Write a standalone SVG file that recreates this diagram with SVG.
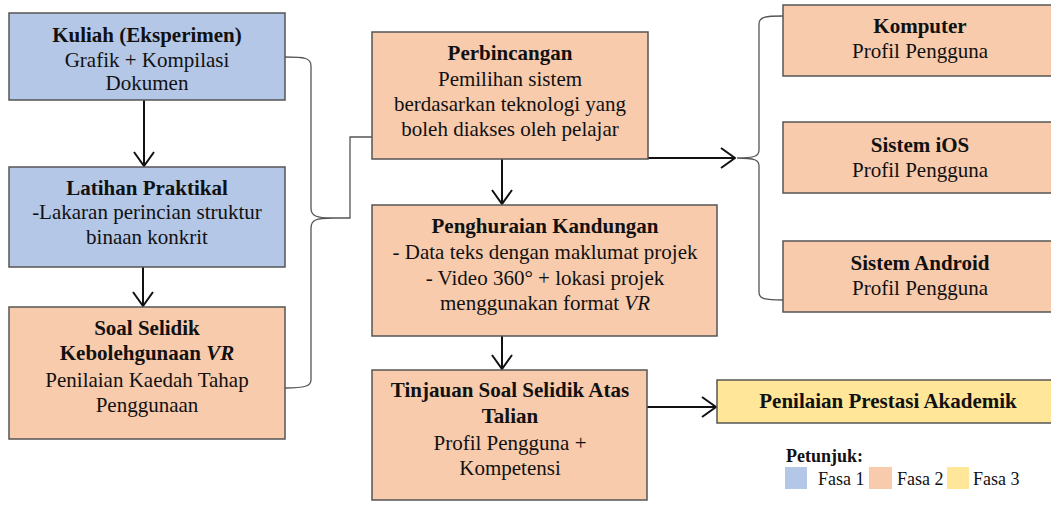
<svg xmlns="http://www.w3.org/2000/svg" width="1051" height="507" viewBox="0 0 1051 507">
<style>
text{font-family:"Liberation Serif","Times New Roman",serif;font-size:21px;fill:#111;text-anchor:middle}
.b{font-weight:bold}
.i{font-style:italic}
.box{stroke:#555;stroke-width:1.5}
.f1{fill:#b4c7e7}
.f2{fill:#f8cbad}
.f3{fill:#ffe699}
.arrow{stroke:#111;stroke-width:2;fill:none;marker-end:url(#arr)}
.brace{stroke:#555;stroke-width:1.3;fill:none}
.leg{font-size:18px;text-anchor:start}
</style>
<defs>
<marker id="arr" viewBox="0 0 16 22" refX="15" refY="11" markerWidth="16" markerHeight="22" orient="auto" markerUnits="userSpaceOnUse">
<path d="M1,1 L15,11 L1,21" fill="none" stroke="#111" stroke-width="2"/>
</marker>
</defs>
<g id="connectors">
<path class="arrow" d="M144,100 V166"/>
<path class="arrow" d="M143,267 V306"/>
<path class="arrow" d="M502,159 V204"/>
<path class="arrow" d="M502,336 V369"/>
<path class="arrow" d="M647,407 H716"/>
<path class="arrow" d="M648,158 H735"/>
<path class="brace" d="M285,57 C305,57 311,58 311,66 V208 C311,216 316,218 333,218 C316,218 311,220 311,228 V380 C311,386 305,388 285,388"/>
<path class="brace" d="M333,218 H350 V137 H372"/>
<path class="brace" d="M783,16 C765,16 759,17 759,24 V150 C759,156 755,158 737,158 C755,158 759,160 759,166 V292 C759,299 765,300 783,300"/>
</g>
<g id="kuliah">
<rect class="box f1" x="9" y="13" width="276" height="87"/>
<text x="147" y="42" class="b">Kuliah (Eksperimen)</text>
<text x="147" y="67">Grafik + Kompilasi</text>
<text x="147" y="90">Dokumen</text>
</g>
<g id="latihan">
<rect class="box f1" x="9" y="167" width="276" height="100"/>
<text x="147" y="195" class="b">Latihan Praktikal</text>
<text x="147" y="219">-Lakaran perincian struktur</text>
<text x="147" y="244">binaan konkrit</text>
</g>
<g id="soal">
<rect class="box f2" x="9" y="307" width="276" height="132"/>
<text x="147" y="335" class="b">Soal Selidik</text>
<text x="147" y="360" class="b">Kebolehgunaan <tspan class="i">VR</tspan></text>
<text x="147" y="387">Penilaian Kaedah Tahap</text>
<text x="147" y="412">Penggunaan</text>
</g>
<g id="perbincangan">
<rect class="box f2" x="372" y="32" width="276" height="127"/>
<text x="510" y="60" class="b">Perbincangan</text>
<text x="510" y="86">Pemilihan sistem</text>
<text x="510" y="111">berdasarkan teknologi yang</text>
<text x="510" y="136">boleh diakses oleh pelajar</text>
</g>
<g id="penghuraian">
<rect class="box f2" x="372" y="205" width="345" height="131"/>
<text x="545" y="233" class="b">Penghuraian Kandungan</text>
<text x="545" y="259">- Data teks dengan maklumat projek</text>
<text x="545" y="285">- Video 360° + lokasi projek</text>
<text x="545" y="310">menggunakan format <tspan class="i">VR</tspan></text>
</g>
<g id="tinjauan">
<rect class="box f2" x="372" y="370" width="275" height="130"/>
<text x="510" y="397" class="b">Tinjauan Soal Selidik Atas</text>
<text x="510" y="423" class="b">Talian</text>
<text x="510" y="450">Profil Pengguna +</text>
<text x="510" y="475">Kompetensi</text>
</g>
<g id="komputer">
<rect class="box f2" x="783" y="5" width="275" height="71"/>
<text x="920" y="33" class="b">Komputer</text>
<text x="920" y="58">Profil Pengguna</text>
</g>
<g id="ios">
<rect class="box f2" x="783" y="122" width="275" height="71"/>
<text x="920" y="152" class="b">Sistem iOS</text>
<text x="920" y="177">Profil Pengguna</text>
</g>
<g id="android">
<rect class="box f2" x="783" y="241" width="275" height="71"/>
<text x="920" y="270" class="b">Sistem Android</text>
<text x="920" y="295">Profil Pengguna</text>
</g>
<g id="penilaian">
<rect class="box f3" x="717" y="380" width="340" height="43"/>
<text x="888" y="408" class="b">Penilaian Prestasi Akademik</text>
</g>
<g id="legend">
<text x="786" y="462" class="leg b">Petunjuk:</text>
<rect class="f1" x="785" y="467" width="22" height="22"/>
<text x="818" y="485" class="leg">Fasa 1</text>
<rect class="f2" x="869" y="467" width="23" height="22"/>
<text x="897" y="485" class="leg">Fasa 2</text>
<rect class="f3" x="947" y="467" width="22" height="22"/>
<text x="973" y="485" class="leg">Fasa 3</text>
</g>
</svg>
